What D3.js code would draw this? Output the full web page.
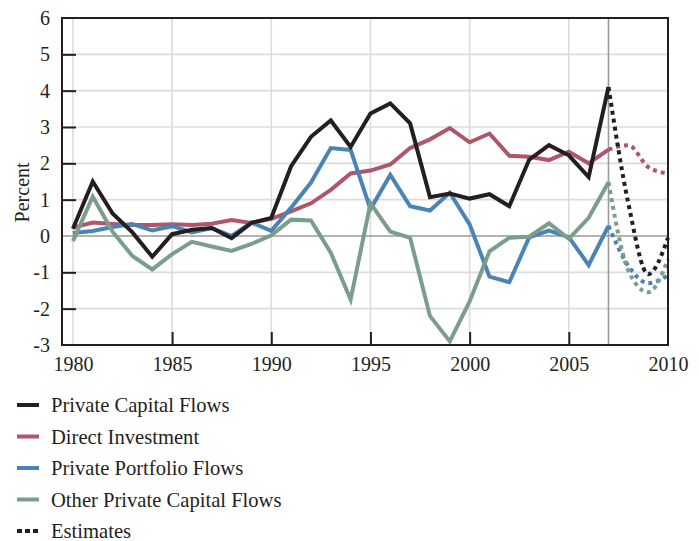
<!DOCTYPE html>
<html>
<head>
<meta charset="utf-8">
<script src="https://cdn.jsdelivr.net/npm/d3@7"></script>
<style>
  html, body { margin: 0; padding: 0; background: #fff; }
  svg { display: block; }
  text { font-family: "Liberation Serif", "DejaVu Serif", serif; fill: #231f20; }
</style>
</head>
<body>
<svg id="chart" width="699" height="541"></svg>
<script>
// ---- data ----
const years = d3.range(1980, 2008);
const estimateYears = [2007, 2008, 2009, 2010];
const xTickValues = [1980, 1985, 1990, 1995, 2000, 2005, 2010];
const yTickValues = [-3, -2, -1, 0, 1, 2, 3, 4, 5, 6];

const privateCapitalFlows = [0.2, 1.5, 0.62, 0.1, -0.57, 0.05, 0.17, 0.22, -0.06, 0.36,
  0.5, 1.92, 2.73, 3.18, 2.45, 3.37, 3.65, 3.1, 1.07, 1.17,
  1.03, 1.15, 0.82, 2.1, 2.5, 2.22, 1.62, 4.1];
const directInvestment = [0.23, 0.37, 0.33, 0.3, 0.3, 0.32, 0.3, 0.34, 0.44, 0.36,
  0.47, 0.68, 0.9, 1.27, 1.72, 1.8, 1.97, 2.42, 2.66, 2.97,
  2.58, 2.82, 2.21, 2.18, 2.09, 2.32, 2.0, 2.38];
const privatePortfolioFlows = [0.08, 0.14, 0.25, 0.33, 0.15, 0.27, 0.1, 0.22, 0.0, 0.37,
  0.14, 0.78, 1.47, 2.42, 2.37, 0.74, 1.68, 0.82, 0.7, 1.19,
  0.32, -1.12, -1.27, -0.04, 0.15, -0.03, -0.8, 0.28];
const otherPrivateCapitalFlows = [-0.14, 1.08, 0.12, -0.55, -0.92, -0.5, -0.16, -0.29, -0.41, -0.22,
  0.02, 0.45, 0.43, -0.46, -1.75, 0.9, 0.12, -0.05, -2.2, -2.9,
  -1.8, -0.42, -0.05, -0.02, 0.35, -0.08, 0.5, 1.48];

const privateCapitalFlowsEst = [4.1, 0.9, -1.05, -0.05];
const directInvestmentEst = [2.38, 2.5, 1.9, 1.72];
const privatePortfolioFlowsEst = [0.28, -0.82, -1.3, -1.08];
const otherPrivateCapitalFlowsEst = [1.48, -0.95, -1.55, -0.65];

const seriesNames = ["Private Capital Flows", "Direct Investment", "Private Portfolio Flows", "Other Private Capital Flows"];
const seriesColors = ["#231f20", "#b0566b", "#4a84b6", "#7b9e8b"];

// ---- layout ----
const svg = d3.select("#chart");
const L = 62, R = 668, T = 18, B = 345;
const x = d3.scaleLinear().domain([1979.45, 2010]).range([L, R]);
const y = d3.scaleLinear().domain([-3, 6]).range([B, T]);

// gridlines
const grid = svg.append("g");
grid.selectAll("line.h").data(yTickValues.filter(v => v !== 0 && v > -3 && v < 6)).join("line")
  .attr("x1", L).attr("x2", R).attr("y1", d => y(d)).attr("y2", d => y(d))
  .attr("stroke", "#dcdcdc").attr("stroke-width", 1.6);
grid.selectAll("line.v").data(xTickValues.filter(v => v < 2010)).join("line")
  .attr("x1", d => x(d)).attr("x2", d => x(d)).attr("y1", T).attr("y2", B)
  .attr("stroke", "#dcdcdc").attr("stroke-width", 1.6);
// zero line
svg.append("line").attr("x1", L).attr("x2", R).attr("y1", y(0)).attr("y2", y(0))
  .attr("stroke", "#9a9a9a").attr("stroke-width", 1.6);
// 2007 divider
svg.append("line").attr("x1", x(2007)).attr("x2", x(2007)).attr("y1", T).attr("y2", B)
  .attr("stroke", "#9a9a9c").attr("stroke-width", 1.6);

// axes
const yAxis = d3.axisLeft(y).tickValues(yTickValues).tickFormat(d => String(d))
  .tickSizeInner(-14).tickSizeOuter(0).tickPadding(12);
const gy = svg.append("g").attr("transform", `translate(${L},0)`).call(yAxis);
gy.select(".domain").remove();
gy.selectAll(".tick line").attr("stroke", "#231f20").attr("stroke-width", 2)
  .attr("display", d => (d === -3 || d === 6 || d === 0) ? "none" : null);
gy.selectAll(".tick text").attr("font-size", 20).attr("fill", "#231f20")
  .attr("font-family", "Liberation Serif, serif");

const xAxis = d3.axisBottom(x).tickValues(xTickValues).tickFormat(d => String(d))
  .tickSizeInner(-13).tickSizeOuter(0).tickPadding(12);
const gx = svg.append("g").attr("transform", `translate(0,${B})`).call(xAxis);
gx.select(".domain").remove();
gx.selectAll(".tick line").attr("stroke", "#231f20").attr("stroke-width", 2)
  .attr("display", d => (d === 1980 || d === 2010) ? "none" : null);
gx.selectAll(".tick text").attr("font-size", 20).attr("fill", "#231f20")
  .attr("font-family", "Liberation Serif, serif");

// y label
svg.append("text").attr("transform", `translate(29,${(y(1.2))}) rotate(-90)`)
  .attr("text-anchor", "middle").attr("font-size", 20).text("Percent");

// series
const actual = [privateCapitalFlows, directInvestment, privatePortfolioFlows, otherPrivateCapitalFlows];
const est = [privateCapitalFlowsEst, directInvestmentEst, privatePortfolioFlowsEst, otherPrivateCapitalFlowsEst];
const lineA = d3.line().x((d, i) => x(years[i])).y(d => y(d));
const lineE = d3.line().x((d, i) => x(estimateYears[i])).y(d => y(d)).curve(d3.curveMonotoneX);
const order = [1, 2, 3, 0];
const plot = svg.append("g");
order.forEach(k => {
  plot.append("path").datum(est[k]).attr("d", lineE).attr("fill", "none")
    .attr("stroke", seriesColors[k]).attr("stroke-width", 4).attr("stroke-dasharray", "4,4");
});
order.forEach(k => {
  plot.append("path").datum(actual[k]).attr("d", lineA).attr("fill", "none")
    .attr("stroke", seriesColors[k]).attr("stroke-width", 4).attr("stroke-linejoin", "miter");
});

// frame
svg.append("rect").attr("x", L).attr("y", T).attr("width", R - L).attr("height", B - T)
  .attr("fill", "none").attr("stroke", "#231f20").attr("stroke-width", 2);

// legend
const legendItems = seriesNames.map((n, i) => ({ name: n, color: seriesColors[i], dash: null }))
  .concat([{ name: "Estimates", color: "#231f20", dash: "5,3" }]);
const lg = svg.append("g");
legendItems.forEach((d, i) => {
  const yy = 405 + i * 31.5;
  lg.append("line").attr("x1", 17).attr("x2", 39).attr("y1", yy).attr("y2", yy)
    .attr("stroke", d.color).attr("stroke-width", 4).attr("stroke-dasharray", d.dash);
  lg.append("text").attr("x", 51).attr("y", yy).attr("dy", "0.35em")
    .attr("font-size", 20.6).text(d.name);
});
</script>
</body>
</html>
